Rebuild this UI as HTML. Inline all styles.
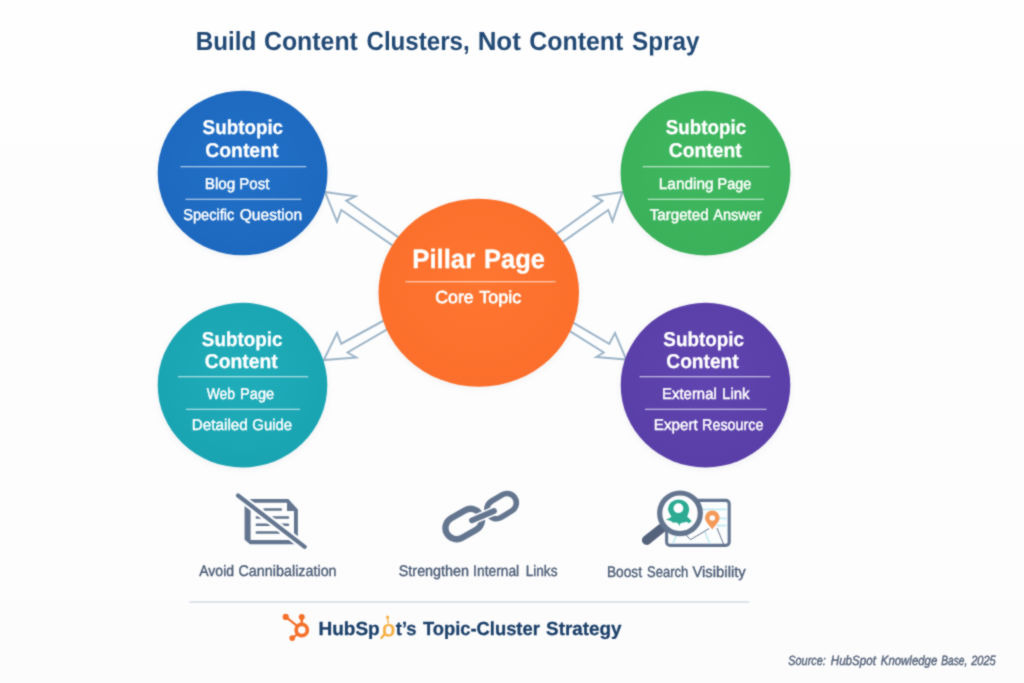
<!DOCTYPE html>
<html lang="en">
<head>
<meta charset="utf-8">
<title>Build Content Clusters, Not Content Spray</title>
<style>
html,body{margin:0;padding:0;background:#fdfdfe;}
body{width:1024px;height:683px;overflow:hidden;font-family:"Liberation Sans",sans-serif;}
svg{display:block;}
svg text{font-family:"Liberation Sans",sans-serif;text-rendering:geometricPrecision;}
</style>
</head>
<body>
<svg width="1024" height="683" viewBox="0 0 1024 683">
<defs>
<radialGradient id="gBlue" cx="50%" cy="45%" r="60%"><stop offset="0" stop-color="#2170c8"/><stop offset="1" stop-color="#1d68be"/></radialGradient>
<radialGradient id="gGreen" cx="50%" cy="45%" r="60%"><stop offset="0" stop-color="#40b860"/><stop offset="1" stop-color="#39b059"/></radialGradient>
<radialGradient id="gTeal" cx="50%" cy="45%" r="60%"><stop offset="0" stop-color="#20adba"/><stop offset="1" stop-color="#19a3b1"/></radialGradient>
<radialGradient id="gPurple" cx="50%" cy="45%" r="60%"><stop offset="0" stop-color="#6045b0"/><stop offset="1" stop-color="#593ea7"/></radialGradient>
<radialGradient id="gOrange" cx="50%" cy="45%" r="60%"><stop offset="0" stop-color="#ff7631"/><stop offset="1" stop-color="#fb6e2b"/></radialGradient>
<linearGradient id="gBg" x1="0" y1="0" x2="0" y2="1"><stop offset="0" stop-color="#fefefe"/><stop offset="1" stop-color="#fcfcfd"/></linearGradient>
<filter id="soften" filterUnits="userSpaceOnUse" x="-4" y="-4" width="1032" height="691" color-interpolation-filters="sRGB"><feConvolveMatrix order="3" kernelMatrix="1 2 1 2 10 2 1 2 1" divisor="22" edgeMode="duplicate" preserveAlpha="true"/></filter>
<filter id="shadow" x="-15%" y="-15%" width="130%" height="130%"><feGaussianBlur stdDeviation="3"/></filter>
</defs>
<g filter="url(#soften)">
<rect x="-4" y="-4" width="1032" height="691" fill="url(#gBg)"/>

<text y="50.00" font-size="26.2" font-weight="bold" font-style="normal" fill="#224a75"><tspan x="195.74" textLength="60.56" lengthAdjust="spacingAndGlyphs">Build</tspan> <tspan x="263.97" textLength="93.90" lengthAdjust="spacingAndGlyphs">Content</tspan> <tspan x="366.50" textLength="103.18" lengthAdjust="spacingAndGlyphs">Clusters,</tspan> <tspan x="477.63" textLength="43.25" lengthAdjust="spacingAndGlyphs">Not</tspan> <tspan x="529.22" textLength="94.15" lengthAdjust="spacingAndGlyphs">Content</tspan> <tspan x="632.12" textLength="67.48" lengthAdjust="spacingAndGlyphs">Spray</tspan></text>
<path d="M406.83,243.13 L346.25,200.75 L355.50,196.25 L325.00,192.00 L337.00,221.75 L341.25,210.00 L401.13,251.32" fill="#fdfdfe" stroke="#9db5c8" stroke-width="2" stroke-linejoin="miter" stroke-linecap="butt"/>
<path d="M547.77,240.28 L602.50,200.75 L594.25,196.25 L622.50,192.00 L612.50,221.25 L608.25,210.00 L553.93,248.15" fill="#fdfdfe" stroke="#9db5c8" stroke-width="2" stroke-linejoin="miter" stroke-linecap="butt"/>
<path d="M393.03,315.50 L341.25,343.75 L337.00,333.00 L323.75,360.00 L356.25,357.50 L347.50,352.50 L396.63,323.97" fill="#fdfdfe" stroke="#9db5c8" stroke-width="2" stroke-linejoin="miter" stroke-linecap="butt"/>
<path d="M564.64,317.70 L609.25,343.75 L615.00,333.00 L626.25,359.50 L596.25,357.00 L603.75,352.50 L561.85,326.10" fill="#fdfdfe" stroke="#9db5c8" stroke-width="2" stroke-linejoin="miter" stroke-linecap="butt"/>
<ellipse cx="242.6" cy="174.5" rx="85.4" ry="82.8" fill="#8a93a3" opacity="0.10" filter="url(#shadow)"/><ellipse cx="242.6" cy="173.0" rx="84.9" ry="82.3" fill="url(#gBlue)"/>
<ellipse cx="705.5" cy="174.6" rx="85.4" ry="82.8" fill="#8a93a3" opacity="0.10" filter="url(#shadow)"/><ellipse cx="705.5" cy="173.1" rx="84.9" ry="82.3" fill="url(#gGreen)"/>
<ellipse cx="242.5" cy="386.6" rx="85.3" ry="82.8" fill="#8a93a3" opacity="0.10" filter="url(#shadow)"/><ellipse cx="242.5" cy="385.1" rx="84.8" ry="82.3" fill="url(#gTeal)"/>
<ellipse cx="705.5" cy="386.6" rx="85.3" ry="82.8" fill="#8a93a3" opacity="0.10" filter="url(#shadow)"/><ellipse cx="705.5" cy="385.1" rx="84.8" ry="82.3" fill="url(#gPurple)"/>
<ellipse cx="478.75" cy="294.25" rx="100.75" ry="94.5" fill="#8a93a3" opacity="0.10" filter="url(#shadow)"/><ellipse cx="478.75" cy="292.75" rx="100.25" ry="94" fill="url(#gOrange)"/>
<text y="133.75" font-size="20" font-weight="bold" font-style="normal" fill="#fff" stroke="#fff" stroke-width="0.3" stroke-linejoin="round"><tspan x="202.61" textLength="80.46" lengthAdjust="spacingAndGlyphs">Subtopic</tspan></text>
<text y="156.75" font-size="20" font-weight="bold" font-style="normal" fill="#fff" stroke="#fff" stroke-width="0.3" stroke-linejoin="round"><tspan x="205.29" textLength="73.15" lengthAdjust="spacingAndGlyphs">Content</tspan></text>
<line x1="180.50" y1="166.75" x2="306.25" y2="166.75" stroke="#fff" stroke-width="1.1" stroke-opacity="0.8"/>
<text y="189.00" font-size="15.6" font-weight="normal" font-style="normal" fill="#fff" stroke="#fff" stroke-width="0.45" stroke-linejoin="round"><tspan x="204.78" textLength="30.60" lengthAdjust="spacingAndGlyphs">Blog</tspan> <tspan x="239.30" textLength="30.18" lengthAdjust="spacingAndGlyphs">Post</tspan></text>
<line x1="185.50" y1="199.25" x2="301.25" y2="199.25" stroke="#fff" stroke-width="1.1" stroke-opacity="0.8"/>
<text y="220.00" font-size="15.6" font-weight="normal" font-style="normal" fill="#fff" stroke="#fff" stroke-width="0.45" stroke-linejoin="round"><tspan x="183.27" textLength="50.98" lengthAdjust="spacingAndGlyphs">Specific</tspan> <tspan x="239.74" textLength="62.41" lengthAdjust="spacingAndGlyphs">Question</tspan></text>
<text y="133.75" font-size="20" font-weight="bold" font-style="normal" fill="#fff" stroke="#fff" stroke-width="0.3" stroke-linejoin="round"><tspan x="665.86" textLength="80.21" lengthAdjust="spacingAndGlyphs">Subtopic</tspan></text>
<text y="156.75" font-size="20" font-weight="bold" font-style="normal" fill="#fff" stroke="#fff" stroke-width="0.3" stroke-linejoin="round"><tspan x="668.80" textLength="72.90" lengthAdjust="spacingAndGlyphs">Content</tspan></text>
<line x1="642.75" y1="166.75" x2="769.50" y2="166.75" stroke="#fff" stroke-width="1.1" stroke-opacity="0.8"/>
<text y="189.00" font-size="15.6" font-weight="normal" font-style="normal" fill="#fff" stroke="#fff" stroke-width="0.45" stroke-linejoin="round"><tspan x="658.77" textLength="54.87" lengthAdjust="spacingAndGlyphs">Landing</tspan> <tspan x="717.60" textLength="33.77" lengthAdjust="spacingAndGlyphs">Page</tspan></text>
<line x1="647.75" y1="199.25" x2="764.00" y2="199.25" stroke="#fff" stroke-width="1.1" stroke-opacity="0.8"/>
<text y="219.60" font-size="15.6" font-weight="normal" font-style="normal" fill="#fff" stroke="#fff" stroke-width="0.45" stroke-linejoin="round"><tspan x="649.74" textLength="58.89" lengthAdjust="spacingAndGlyphs">Targeted</tspan> <tspan x="713.23" textLength="48.37" lengthAdjust="spacingAndGlyphs">Answer</tspan></text>
<text y="345.75" font-size="20" font-weight="bold" font-style="normal" fill="#fff" stroke="#fff" stroke-width="0.3" stroke-linejoin="round"><tspan x="201.86" textLength="80.71" lengthAdjust="spacingAndGlyphs">Subtopic</tspan></text>
<text y="368.25" font-size="20" font-weight="bold" font-style="normal" fill="#fff" stroke="#fff" stroke-width="0.3" stroke-linejoin="round"><tspan x="204.80" textLength="72.90" lengthAdjust="spacingAndGlyphs">Content</tspan></text>
<line x1="178.00" y1="376.75" x2="308.25" y2="376.75" stroke="#fff" stroke-width="1.1" stroke-opacity="0.8"/>
<text y="399.10" font-size="15.6" font-weight="normal" font-style="normal" fill="#fff" stroke="#fff" stroke-width="0.45" stroke-linejoin="round"><tspan x="206.72" textLength="28.36" lengthAdjust="spacingAndGlyphs">Web</tspan> <tspan x="240.09" textLength="34.03" lengthAdjust="spacingAndGlyphs">Page</tspan></text>
<line x1="186.00" y1="409.25" x2="300.00" y2="409.25" stroke="#fff" stroke-width="1.1" stroke-opacity="0.8"/>
<text y="430.40" font-size="15.6" font-weight="normal" font-style="normal" fill="#fff" stroke="#fff" stroke-width="0.45" stroke-linejoin="round"><tspan x="191.78" textLength="56.10" lengthAdjust="spacingAndGlyphs">Detailed</tspan> <tspan x="252.27" textLength="39.86" lengthAdjust="spacingAndGlyphs">Guide</tspan></text>
<text y="345.75" font-size="20" font-weight="bold" font-style="normal" fill="#fff" stroke="#fff" stroke-width="0.3" stroke-linejoin="round"><tspan x="663.36" textLength="80.71" lengthAdjust="spacingAndGlyphs">Subtopic</tspan></text>
<text y="368.25" font-size="20" font-weight="bold" font-style="normal" fill="#fff" stroke="#fff" stroke-width="0.3" stroke-linejoin="round"><tspan x="666.30" textLength="72.39" lengthAdjust="spacingAndGlyphs">Content</tspan></text>
<line x1="639.50" y1="376.75" x2="770.25" y2="376.75" stroke="#fff" stroke-width="1.1" stroke-opacity="0.8"/>
<text y="399.10" font-size="15.6" font-weight="normal" font-style="normal" fill="#fff" stroke="#fff" stroke-width="0.45" stroke-linejoin="round"><tspan x="662.06" textLength="54.70" lengthAdjust="spacingAndGlyphs">External</tspan> <tspan x="722.05" textLength="27.49" lengthAdjust="spacingAndGlyphs">Link</tspan></text>
<line x1="645.00" y1="409.25" x2="766.50" y2="409.25" stroke="#fff" stroke-width="1.1" stroke-opacity="0.8"/>
<text y="430.40" font-size="15.6" font-weight="normal" font-style="normal" fill="#fff" stroke="#fff" stroke-width="0.45" stroke-linejoin="round"><tspan x="653.79" textLength="43.94" lengthAdjust="spacingAndGlyphs">Expert</tspan> <tspan x="702.11" textLength="61.25" lengthAdjust="spacingAndGlyphs">Resource</tspan></text>
<text y="268.25" font-size="26.5" font-weight="bold" font-style="normal" fill="#fff" stroke="#fff" stroke-width="0.3" stroke-linejoin="round"><tspan x="412.29" textLength="62.92" lengthAdjust="spacingAndGlyphs">Pillar</tspan> <tspan x="484.06" textLength="60.93" lengthAdjust="spacingAndGlyphs">Page</tspan></text>
<line x1="405.25" y1="281.75" x2="555.50" y2="281.75" stroke="#fff" stroke-width="1.1" stroke-opacity="0.8"/>
<text y="302.50" font-size="17.4" font-weight="normal" font-style="normal" fill="#fff" stroke="#fff" stroke-width="0.7" stroke-linejoin="round"><tspan x="435.27" textLength="38.35" lengthAdjust="spacingAndGlyphs">Core</tspan> <tspan x="479.32" textLength="41.86" lengthAdjust="spacingAndGlyphs">Topic</tspan></text>
<g fill="none" stroke="#64768f">
<path fill="#64768f" stroke="none" fill-rule="evenodd" d="M244.6,499 L288.3,499 L297.9,509.6 L297.9,544.3 L250,544.3 L244.6,539.8 Z M250.6,502.8 L287,502.8 L287,510.9 L294,510.9 L294,540.1 L250.6,540.1 Z"/>
<g stroke-width="2.5" stroke-linecap="round"><path d="M264.5,509.6 H280.8 M256.8,517.4 H288 M256.8,524.8 H288 M256.8,532.6 H279"/></g>
<path d="M238,495.5 L304.7,546.8" stroke="#fdfdfe" stroke-width="8.6" stroke-linecap="round"/>
<path d="M238,495.5 L304.7,546.8" stroke-width="4.2" stroke-linecap="round"/>
</g>
<text y="576.25" font-size="15.3" font-weight="normal" font-style="normal" fill="#4c5d76" stroke="#4c5d76" stroke-width="0.4" stroke-linejoin="round"><tspan x="199.20" textLength="34.89" lengthAdjust="spacingAndGlyphs">Avoid</tspan> <tspan x="238.53" textLength="98.08" lengthAdjust="spacingAndGlyphs">Cannibalization</tspan></text>
<g fill="none" stroke="#64768f" stroke-linecap="round">
<rect x="-19.3" y="-11.2" width="38.6" height="22.4" rx="11.2" transform="translate(463.7,524) rotate(-29.5)" stroke-width="6.4"/>
<rect x="-15.6" y="-9.4" width="31.2" height="18.8" rx="9.4" transform="translate(501.6,506.1) rotate(-31)" stroke-width="5.6"/>
<path d="M472,520.3 L494,511" stroke="#fdfdfe" stroke-width="9"/>
<path d="M472,520.3 L494,511" stroke-width="5.8"/>
</g>
<text y="576.25" font-size="15.3" font-weight="normal" font-style="normal" fill="#4c5d76" stroke="#4c5d76" stroke-width="0.4" stroke-linejoin="round"><tspan x="398.75" textLength="70.36" lengthAdjust="spacingAndGlyphs">Strengthen</tspan> <tspan x="473.12" textLength="46.09" lengthAdjust="spacingAndGlyphs">Internal</tspan> <tspan x="525.63" textLength="31.84" lengthAdjust="spacingAndGlyphs">Links</tspan></text>
<g>
<rect x="666.6" y="500.4" width="62.6" height="45" rx="3.4" fill="#fbfdfe" stroke="#64768f" stroke-width="3.1"/>
<g stroke="#c4ebf1" stroke-width="1.6" fill="none"><path d="M702,509.4 H726.5 M719,518.4 H726.5 M717,525.6 H726.5 M677,534 L672.5,544 M705,532 L710,544"/></g>
<path d="M686,535 L690.6,539.6 L709,528.6 M717,528 L723.5,544" fill="none" stroke="#56637a" stroke-width="0.9"/>
<path d="M712.3,529.4 C708.4,524.4 705,521.4 705,517.8 A7.3,7.3 0 1 1 719.6,517.8 C719.6,521.4 716.2,524.4 712.3,529.4 Z" fill="#f49a58"/>
<circle cx="712.3" cy="518" r="2.8" fill="#fdfdfe"/>
<path d="M661.5,528.4 L646.6,540.2" stroke="#54627b" stroke-width="9.4" stroke-linecap="round" fill="none"/>
<circle cx="680" cy="513.3" r="20.3" fill="#fdfdfe" stroke="#64768f" stroke-width="5.2"/>
<path d="M668,509 A10.6,9.6 0 1 1 689.2,509 C689.2,512.4 687.6,514.6 687.2,516.8 C689,518.8 691,520 691.8,521.6 C690.5,522.6 689.5,522 688.6,523.6 L687,521.8 C684.5,522.4 682.6,522.6 680.6,523.2 L679.4,526 L678.2,523.2 C676,522.6 674,523 672.4,522.6 L671,521 C669.5,520.6 667.5,520.4 665.8,519.6 C668,518.4 670.6,518.2 671.4,516.2 C670,514 668,511.8 668,508.4 Z" fill="#2cab92"/>
<circle cx="678.4" cy="508.2" r="4.9" fill="#fdfdfe"/>
</g>
<text y="576.75" font-size="15.3" font-weight="normal" font-style="normal" fill="#4c5d76" stroke="#4c5d76" stroke-width="0.4" stroke-linejoin="round"><tspan x="606.88" textLength="35.13" lengthAdjust="spacingAndGlyphs">Boost</tspan> <tspan x="647.04" textLength="41.24" lengthAdjust="spacingAndGlyphs">Search</tspan> <tspan x="692.45" textLength="53.35" lengthAdjust="spacingAndGlyphs">Visibility</tspan></text>
<line x1="189.5" y1="602" x2="749.25" y2="602" stroke="#d3dbe4" stroke-width="1.6"/>
<g stroke="#f4712b" fill="none" stroke-linecap="round">
<circle cx="301.75" cy="630" r="5.6" stroke-width="3.7"/>
<path d="M285.75,616.9 L297.4,626.2" stroke-width="2.3"/>
<path d="M301.75,617 V624.5" stroke-width="2.6"/>
<path d="M292.25,638.1 L297.5,634.2" stroke-width="2.1"/>
<g fill="#f4712b" stroke="none"><circle cx="285.75" cy="616.9" r="3.1"/><circle cx="301.75" cy="616.9" r="3"/><circle cx="292.25" cy="638.1" r="2.9"/></g>
</g>
<text y="634.90" font-size="18.9" font-weight="bold" font-style="normal" fill="#1c4069" stroke="#1c4069" stroke-width="0.3" stroke-linejoin="round"><tspan x="318.46" y="634.90" textLength="61.26" lengthAdjust="spacingAndGlyphs">HubSp</tspan><tspan x="382.23" y="635.80" textLength="12.86" lengthAdjust="spacingAndGlyphs" font-size="21.8" fill="#f6ad3e" stroke="#f6ad3e" stroke-width="0.6" font-weight="normal">o</tspan><tspan x="395.80" y="634.90" textLength="20.80" lengthAdjust="spacingAndGlyphs">t’s</tspan> <tspan x="422.90" y="634.90" textLength="116.96" lengthAdjust="spacingAndGlyphs">Topic-Cluster</tspan> <tspan x="546.11" y="634.90" textLength="75.27" lengthAdjust="spacingAndGlyphs">Strategy</tspan></text>
<g fill="#f6ad3e" stroke="#f6ad3e"><circle cx="387.6" cy="617.1" r="1.6" stroke="none"/><path d="M387.7,618 L388.2,623.6" stroke-width="1.3" fill="none"/><path d="M384,634.8 L381.4,638" stroke-width="2.2" stroke-linecap="round" fill="none"/></g>
<text y="664.75" font-size="13.4" font-weight="normal" font-style="italic" fill="#56647a" stroke="#56647a" stroke-width="0.45" stroke-linejoin="round"><tspan x="788.30" textLength="37.52" lengthAdjust="spacingAndGlyphs">Source:</tspan> <tspan x="830.79" textLength="45.08" lengthAdjust="spacingAndGlyphs">HubSpot</tspan> <tspan x="880.80" textLength="56.51" lengthAdjust="spacingAndGlyphs">Knowledge</tspan> <tspan x="941.32" textLength="26.04" lengthAdjust="spacingAndGlyphs">Base,</tspan> <tspan x="971.15" textLength="24.56" lengthAdjust="spacingAndGlyphs">2025</tspan></text>
</g>
</svg>
</body>
</html>
